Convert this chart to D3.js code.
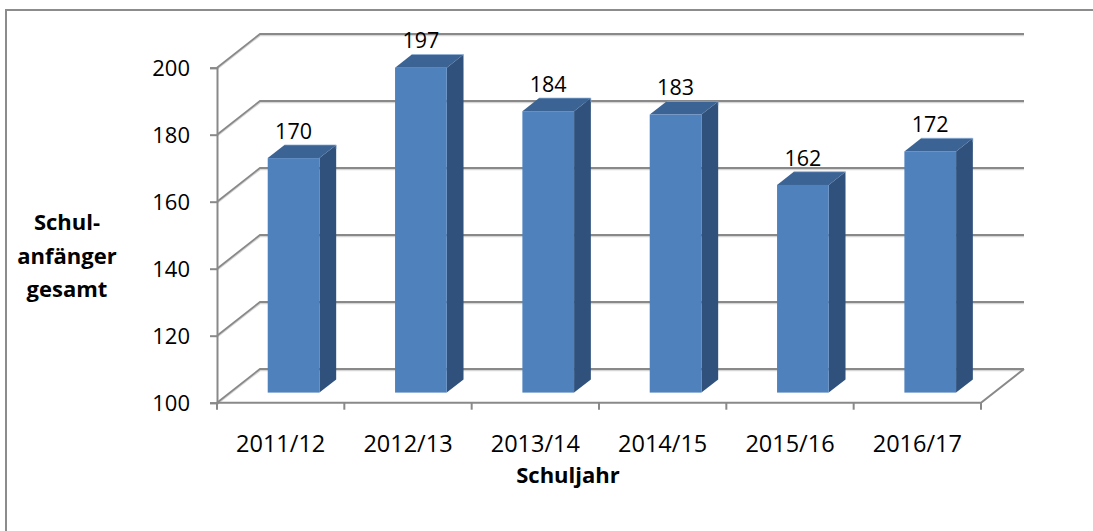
<!DOCTYPE html>
<html>
<head>
<meta charset="utf-8">
<script src="https://cdn.jsdelivr.net/npm/d3@7"></script>
<style>
  html, body { margin: 0; padding: 0; background: #fff; }
  svg { display: block; }
  text { font-family: 'Open Sans', sans-serif; fill: #000; }
</style>
</head>
<body>
<div id="chart"></div>
<script>
// ─── Data ─────────────────────────────────────────────────────────────────────
const schuljahre = ['2011/12', '2012/13', '2013/14', '2014/15', '2015/16', '2016/17']
const schulanfaenger = [170, 197, 184, 183, 162, 172]
const yTicks = [100, 120, 140, 160, 180, 200]

// ─── Layout ───────────────────────────────────────────────────────────────────
const W = 1093, H = 531
const plot = { left: 217, right: 981, top: 67.7, bottom: 402.7 }
const depth = { dx: 43, dy: -33.7 }      // floor / wall depth offset
const barDepth = { f0: 0.3, f1: 0.69 }   // bar sits between these depth fractions
const barWidth = 51.7

const COLORS = {
  front: '#4f81bd',
  top: '#3b6394',
  side: '#30517c',
  grid: '#898989',
  gridShadow: '#d6d6d6',
}

const svg = d3.select('#chart').append('svg')
  .attr('width', W).attr('height', H)

// chart border
svg.append('rect')
  .attr('x', 6).attr('y', 10)
  .attr('width', W + 10).attr('height', H + 10)
  .attr('fill', 'none')
  .attr('stroke', '#8c8c8c')
  .attr('stroke-width', 2)

// ─── Scales ───────────────────────────────────────────────────────────────────
const x = d3.scaleBand()
  .domain(schuljahre)
  .range([plot.left, plot.right])
  .paddingInner(0).paddingOuter(0)

const y = d3.scaleLinear()
  .domain([100, 200])
  .range([plot.bottom, plot.top])

// ─── Walls / gridlines ────────────────────────────────────────────────────────
const gridG = svg.append('g')

function gridPath(v) {
  const y0 = y(v)
  return `M${plot.left},${y0} L${plot.left + depth.dx},${y0 + depth.dy} L${plot.right + depth.dx},${y0 + depth.dy}`
}

gridG.selectAll('path.shadow')
  .data(yTicks)
  .join('path')
  .attr('class', 'shadow')
  .attr('d', d => gridPath(d))
  .attr('transform', 'translate(0,1.6)')
  .attr('fill', 'none')
  .attr('stroke', COLORS.gridShadow)
  .attr('stroke-width', 1.4)

gridG.selectAll('path.grid')
  .data(yTicks)
  .join('path')
  .attr('class', 'grid')
  .attr('d', d => gridPath(d))
  .attr('fill', 'none')
  .attr('stroke', COLORS.grid)
  .attr('stroke-width', 1.8)

// floor front edge + right edge
const yFloor = y(100)
gridG.append('path')
  .attr('d', `M${plot.left},${yFloor} L${plot.right},${yFloor} L${plot.right + depth.dx},${yFloor + depth.dy}`)
  .attr('fill', 'none')
  .attr('stroke', COLORS.grid)
  .attr('stroke-width', 2)

// ─── Axes ─────────────────────────────────────────────────────────────────────
const yAxis = svg.append('g')
  .attr('transform', `translate(${plot.left},0)`)
  .call(d3.axisLeft(y).tickValues(yTicks).tickSize(7).tickPadding(20).tickFormat(d3.format('d')))
yAxis.select('.domain').attr('stroke', COLORS.grid).attr('stroke-width', 2)
yAxis.selectAll('.tick line').attr('stroke', COLORS.grid).attr('stroke-width', 2)
yAxis.selectAll('.tick text')
  .attr('font-family', "'Open Sans', sans-serif")
  .attr('font-size', 22)
  .attr('fill', '#000')
  .attr('dy', '0.36em')

const xAxis = svg.append('g')
  .attr('transform', `translate(0,${yFloor})`)
xAxis.selectAll('line')
  .data(d3.range(schuljahre.length + 1))
  .join('line')
  .attr('x1', i => plot.left + i * x.bandwidth())
  .attr('x2', i => plot.left + i * x.bandwidth())
  .attr('y1', 0).attr('y2', 7)
  .attr('stroke', COLORS.grid)
  .attr('stroke-width', 2)
xAxis.selectAll('text')
  .data(schuljahre)
  .join('text')
  .attr('x', d => x(d) + x.bandwidth() / 2)
  .attr('y', 49)
  .attr('text-anchor', 'middle')
  .attr('font-size', 23.5)
  .text(d => d)

// ─── Bars ─────────────────────────────────────────────────────────────────────
const ox = barDepth.f0 * depth.dx, oy = barDepth.f0 * depth.dy
const bx = (barDepth.f1 - barDepth.f0) * depth.dx, by = (barDepth.f1 - barDepth.f0) * depth.dy

const bars = schuljahre.map((s, i) => {
  const x0 = x(s) + x.bandwidth() / 2 - barWidth / 2 + ox
  return { s, v: schulanfaenger[i], x0, x1: x0 + barWidth, yt: y(schulanfaenger[i]) + oy, yb: y(100) + oy }
})

const barG = svg.append('g').selectAll('g')
  .data(bars)
  .join('g')

barG.append('path') // side
  .attr('d', d => `M${d.x1},${d.yt} L${d.x1 + bx},${d.yt + by} L${d.x1 + bx},${d.yb + by} L${d.x1},${d.yb} Z`)
  .attr('fill', COLORS.side)

barG.append('path') // top
  .attr('d', d => `M${d.x0},${d.yt} L${d.x0 + bx},${d.yt + by} L${d.x1 + bx},${d.yt + by} L${d.x1},${d.yt} Z`)
  .attr('fill', COLORS.top)

barG.append('path') // top back highlight
  .attr('d', d => `M${d.x0 + bx},${d.yt + by} L${d.x1 + bx},${d.yt + by} L${d.x1 + bx},${d.yt + by + 4}`)
  .attr('fill', 'none')
  .attr('stroke', '#8fb0d8')
  .attr('stroke-width', 1)
  .attr('stroke-opacity', 0.7)

barG.append('rect') // front
  .attr('x', d => d.x0)
  .attr('y', d => d.yt)
  .attr('width', barWidth)
  .attr('height', d => d.yb - d.yt)
  .attr('fill', COLORS.front)

// value labels
barG.append('text')
  .attr('x', d => (d.x0 + d.x1) / 2)
  .attr('y', d => d.yt + by - 6)
  .attr('text-anchor', 'middle')
  .attr('font-size', 21.5)
  .text(d => d.v)

// ─── Titles ───────────────────────────────────────────────────────────────────
svg.append('text')
  .attr('x', 568).attr('y', 483)
  .attr('text-anchor', 'middle')
  .attr('font-size', 22)
  .attr('font-weight', 700)
  .text('Schuljahr')

const yTitle = svg.append('text')
  .attr('text-anchor', 'middle')
  .attr('font-size', 22)
  .attr('font-weight', 700)
;['Schul-', 'anfänger', 'gesamt'].forEach((t, i) => {
  yTitle.append('tspan').attr('x', 67).attr('y', 230 + i * 33.5).text(t)
})
</script>
</body>
</html>
